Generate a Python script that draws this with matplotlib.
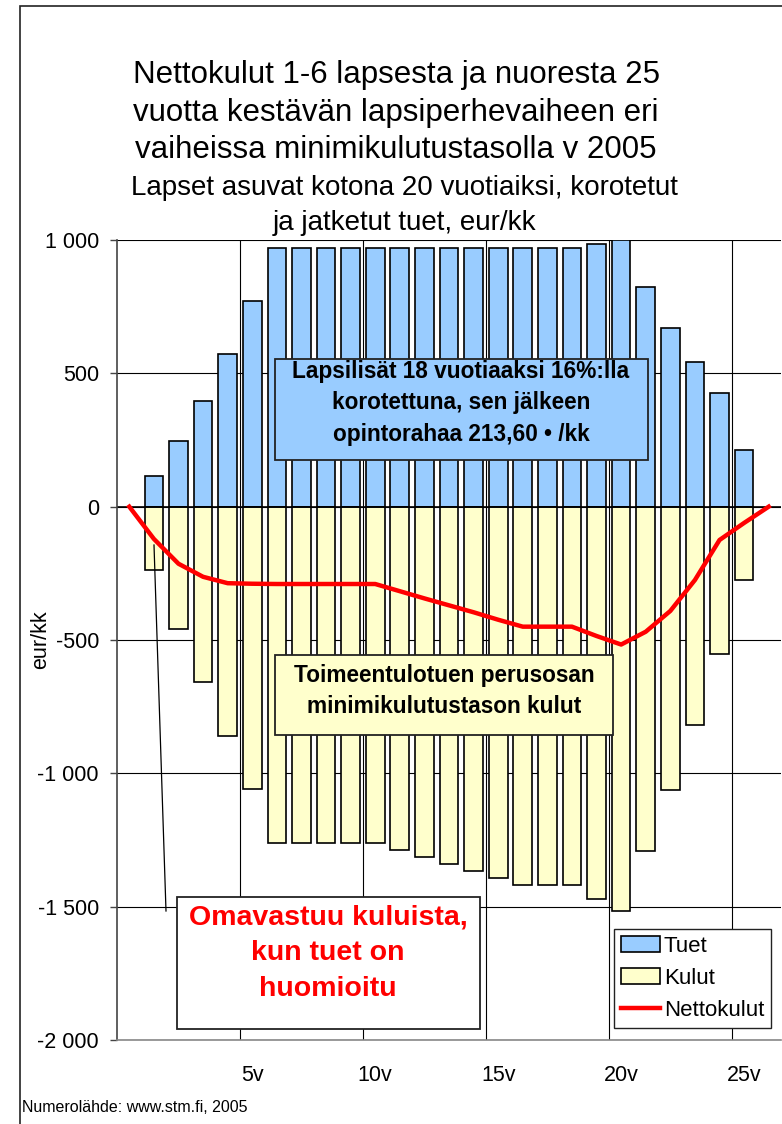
import matplotlib.pyplot as plt
from matplotlib.patches import Rectangle
from matplotlib.lines import Line2D

plt.rcParams['font.family'] = ['Liberation Sans', 'DejaVu Sans']

# ikä vuosina 0..26, pylväät vuosille 1..25
years = list(range(27))
bar_years = list(range(1, 26))
tuet = [116, 245, 396, 572, 771, 970, 970, 970, 970, 970, 970, 970, 970,
        970, 970, 970, 970, 970, 985, 1000, 822, 671, 544, 427, 214]
kulut = [-237, -459, -659, -859, -1060, -1260, -1260, -1260, -1260, -1260,
         -1287, -1314, -1340, -1366, -1394, -1420, -1420, -1420, -1470, -1517,
         -1291, -1062, -819, -552, -275]
netto = [0, -121, -214, -263, -287, -289, -290, -290, -290, -290, -290,
         -317, -344, -370, -396, -424, -450, -450, -450, -485, -517,
         -469, -391, -275, -125, -61, 0]
tick_pos = [5, 10, 15, 20, 25]
tick_labels = ['5v', '10v', '15v', '20v', '25v']

W, H = 782, 1124
fig = plt.figure(figsize=(W / 100, H / 100), dpi=100)

def fx(px):
    return px / W

def fy(py):
    return 1 - py / H

ax = fig.add_axes([fx(117), fy(1040), fx(781) - fx(117), fy(240) - fy(1040)])

b1 = ax.bar(bar_years, tuet, width=0.76, color='#99CCFF', edgecolor='black',
            linewidth=1.2, label='Tuet', zorder=2)
b2 = ax.bar(bar_years, kulut, width=0.76, color='#FFFFCC', edgecolor='black',
            linewidth=1.2, label='Kulut', zorder=2)
l1, = ax.plot(years, netto, color='#FF0000', linewidth=3.2,
              label='Nettokulut', zorder=3)
ax.axhline(0, color='black', linewidth=1.2, zorder=2.5)

ax.set_xlim(-0.5, 26.5)
ax.set_ylim(-2000, 1000)
ax.set_yticks(range(-2000, 1001, 500))
ax.set_yticklabels([f'{v:,}'.replace(',', ' ') for v in range(-2000, 1001, 500)])
ax.set_xticks([p - 0.5 for p in tick_pos])
ax.set_xticklabels([])
ax.set_xticks(tick_pos, minor=True)
ax.set_xticklabels(tick_labels, minor=True)
ax.tick_params(axis='x', which='both', length=0, labelsize=15.5, pad=18)
ax.tick_params(axis='y', length=5, width=1, labelsize=15.5, pad=8,
               color='#444444')
ax.grid(True, which='major', color='black', linewidth=0.8, zorder=0)
ax.set_axisbelow(True)
for s in ['top', 'right']:
    ax.spines[s].set_visible(False)
ax.spines['left'].set_color('#444444')
ax.spines['left'].set_linewidth(1.2)
ax.spines['bottom'].set_color('#888888')
ax.spines['bottom'].set_linewidth(1.2)
ax.set_ylabel('eur/kk', fontsize=15.5)
ax.yaxis.set_label_coords((51 - 117) / 664, 0.5)

# otsikko
title_lines = ['Nettokulut 1-6 lapsesta ja nuoresta 25',
               'vuotta kestävän lapsiperhevaiheen eri',
               'vaiheissa minimikulutustasolla v 2005']
for i, t in enumerate(title_lines):
    fig.text(fx(396), fy(75 + 37.5 * i), t, ha='center', va='center',
             fontsize=22.5)
sub_lines = ['Lapset asuvat kotona 20 vuotiaiksi, korotetut',
             'ja jatketut tuet, eur/kk']
for i, t in enumerate(sub_lines):
    fig.text(fx(404), fy(188 + 35 * i), t, ha='center', va='center',
             fontsize=20)

# tekstilaatikot
def box(x0, y0, x1, y1, fc):
    fig.patches.append(Rectangle((fx(x0), fy(y1)), fx(x1) - fx(x0),
                                 fy(y0) - fy(y1), transform=fig.transFigure,
                                 facecolor=fc, edgecolor='#222222',
                                 linewidth=1.3, zorder=5))

box(275, 359, 648, 460, '#99CCFF')
fig.text(fx(461), fy(403), 'Lapsilisät 18 vuotiaaksi 16%:lla\n'
         'korotettuna, sen jälkeen\nopintorahaa 213,60 • /kk',
         ha='center', va='center', fontsize=16.3, fontweight='bold',
         linespacing=1.48, zorder=6)

box(275, 655, 613, 735, '#FFFFCC')
fig.text(fx(444), fy(691), 'Toimeentulotuen perusosan\n'
         'minimikulutustason kulut', ha='center', va='center',
         fontsize=16.3, fontweight='bold', linespacing=1.45, zorder=6)

fig.lines.append(Line2D([fx(154), fx(166)], [fy(545), fy(911)],
                        transform=fig.transFigure, color='black',
                        linewidth=0.9))
box(177, 897, 480, 1029, 'white')
fig.text(fx(328), fy(953), 'Omavastuu kuluista,\nkun tuet on\nhuomioitu',
         ha='center', va='center', fontsize=20.5, fontweight='bold',
         color='#FF0000', linespacing=1.48, zorder=6)

leg = ax.legend([b1, b2, l1], ['Tuet', 'Kulut', 'Nettokulut'],
                loc='upper right', bbox_to_anchor=(fx(771), fy(929)),
                bbox_transform=fig.transFigure, borderaxespad=0,
                fontsize=16, fancybox=False, edgecolor='#222222',
                framealpha=1, handlelength=1.75, handletextpad=0.2,
                labelspacing=0.5, borderpad=0.3)
leg.get_frame().set_linewidth(1.0)

fig.text(fx(22), fy(1107), 'Numerolähde: www.stm.fi, 2005', ha='left',
         va='center', fontsize=11.5)

# kehys
fig.patches.append(Rectangle((fx(20), fy(1130)), fx(800) - fx(20),
                             fy(6) - fy(1130), transform=fig.transFigure,
                             fill=False, edgecolor='#222222', linewidth=1.2))

fig.savefig('out.png', dpi=100)
